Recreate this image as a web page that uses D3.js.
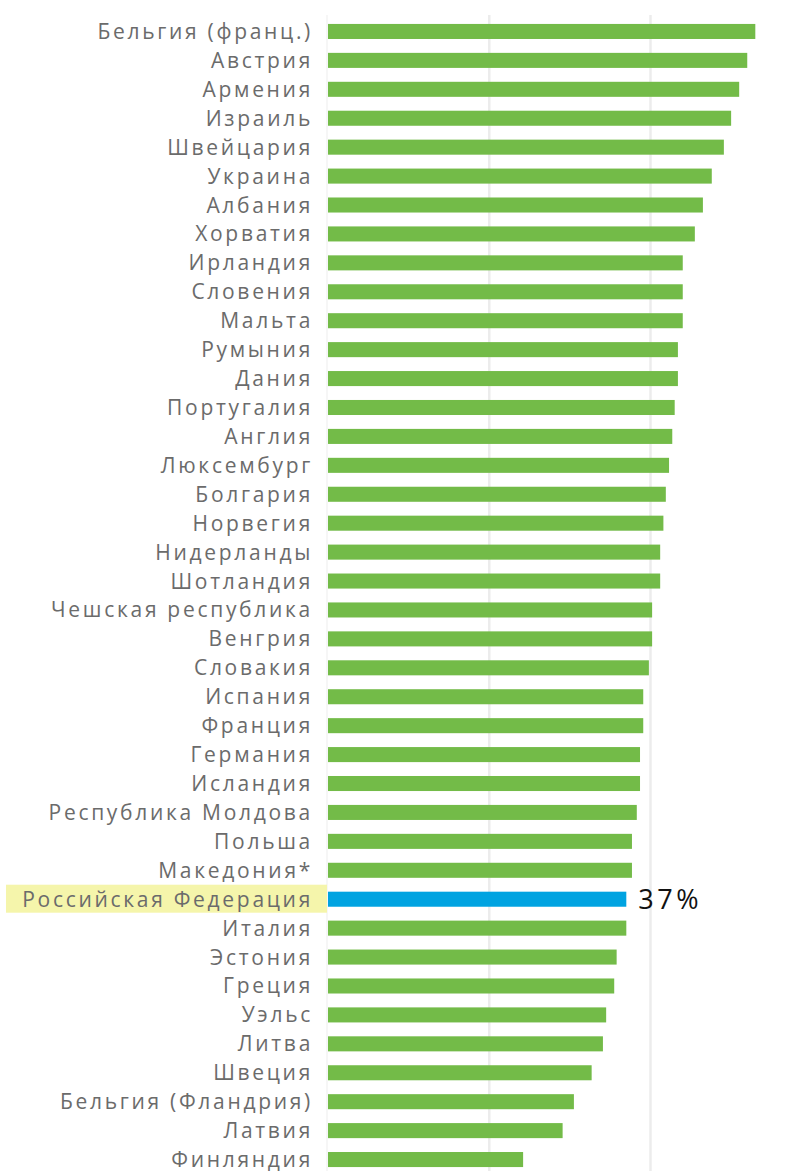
<!DOCTYPE html>
<html>
<head>
<meta charset="utf-8">
<script src="https://cdn.jsdelivr.net/npm/d3@7"></script>
<style>
  html, body { margin: 0; padding: 0; background: #ffffff; }
  svg { display: block; }
  .label { font-family: "Open Sans", "Noto Sans", sans-serif; fill: #6b6b6b; }
</style>
</head>
<body>
<svg id="chart" width="808" height="1171"></svg>
<script>
// Countries, sorted from highest to lowest share
const countries = [
  "Бельгия (франц.)", "Австрия", "Армения", "Израиль", "Швейцария",
  "Украина", "Албания", "Хорватия", "Ирландия", "Словения",
  "Мальта", "Румыния", "Дания", "Португалия", "Англия",
  "Люксембург", "Болгария", "Норвегия", "Нидерланды", "Шотландия",
  "Чешская республика", "Венгрия", "Словакия", "Испания", "Франция",
  "Германия", "Исландия", "Республика Молдова", "Польша", "Македония*",
  "Российская Федерация", "Италия", "Эстония", "Греция", "Уэльс",
  "Литва", "Швеция", "Бельгия (Фландрия)", "Латвия", "Финляндия"
];

// Share, %
const values = [
  53, 52, 51, 50, 49.1,
  47.6, 46.5, 45.5, 44, 44,
  44, 43.4, 43.4, 43, 42.7,
  42.3, 41.9, 41.6, 41.2, 41.2,
  40.2, 40.2, 39.8, 39.1, 39.1,
  38.7, 38.7, 38.3, 37.7, 37.7,
  37, 37, 35.8, 35.5, 34.5,
  34.1, 32.7, 30.5, 29.1, 24.2
];

const gridTicks = [0, 20, 40];
const highlighted = "Российская Федерация";
const highlightLabel = "37%";

const svg = d3.select("#chart");

const x = d3.scaleLinear().domain([0, 40]).range([328, 650.5]);
const y = d3.scaleBand()
  .domain(countries)
  .range([17, 1174])
  .paddingInner(0.48)
  .paddingOuter(0.24);

// vertical grid lines
svg.append("g")
  .selectAll("line")
  .data(gridTicks)
  .join("line")
  .attr("x1", d => x(d) - (d === 0 ? 1 : 0))
  .attr("x2", d => x(d) - (d === 0 ? 1 : 0))
  .attr("y1", 15)
  .attr("y2", 1171)
  .attr("stroke", d => d === 0 ? "#f3f3f3" : "#ececec")
  .attr("stroke-width", d => d === 0 ? 1.5 : 2.5);

// highlight band behind the selected country's label
svg.append("rect")
  .attr("x", 6)
  .attr("y", y(highlighted) + y.bandwidth() / 2 - 14.5)
  .attr("width", 321)
  .attr("height", 28)
  .attr("fill", "#f5f5ab");

// bars
svg.append("g")
  .selectAll("rect")
  .data(countries)
  .join("rect")
  .attr("x", x(0))
  .attr("y", d => y(d))
  .attr("width", (d, i) => x(values[i]) - x(0))
  .attr("height", y.bandwidth())
  .attr("fill", d => d === highlighted ? "#00a3e1" : "#73bb48");

// category labels
svg.append("g")
  .selectAll("text")
  .data(countries)
  .join("text")
  .attr("class", "label")
  .attr("x", 313)
  .attr("y", d => y(d) + y.bandwidth() / 2 + 7.5)
  .attr("text-anchor", "end")
  .attr("font-size", 21)
  .attr("letter-spacing", 2.7)
  .text(d => d);

// value label for the selected country
const hi = countries.indexOf(highlighted);
svg.append("text")
  .attr("x", x(values[hi]) + 12)
  .attr("y", y(highlighted) + y.bandwidth() / 2 + 9.5)
  .attr("font-family", "'Open Sans', 'Noto Sans', sans-serif")
  .attr("font-size", 27)
  .attr("letter-spacing", 3.5)
  .attr("fill", "#111111")
  .text(highlightLabel);
</script>
</body>
</html>
